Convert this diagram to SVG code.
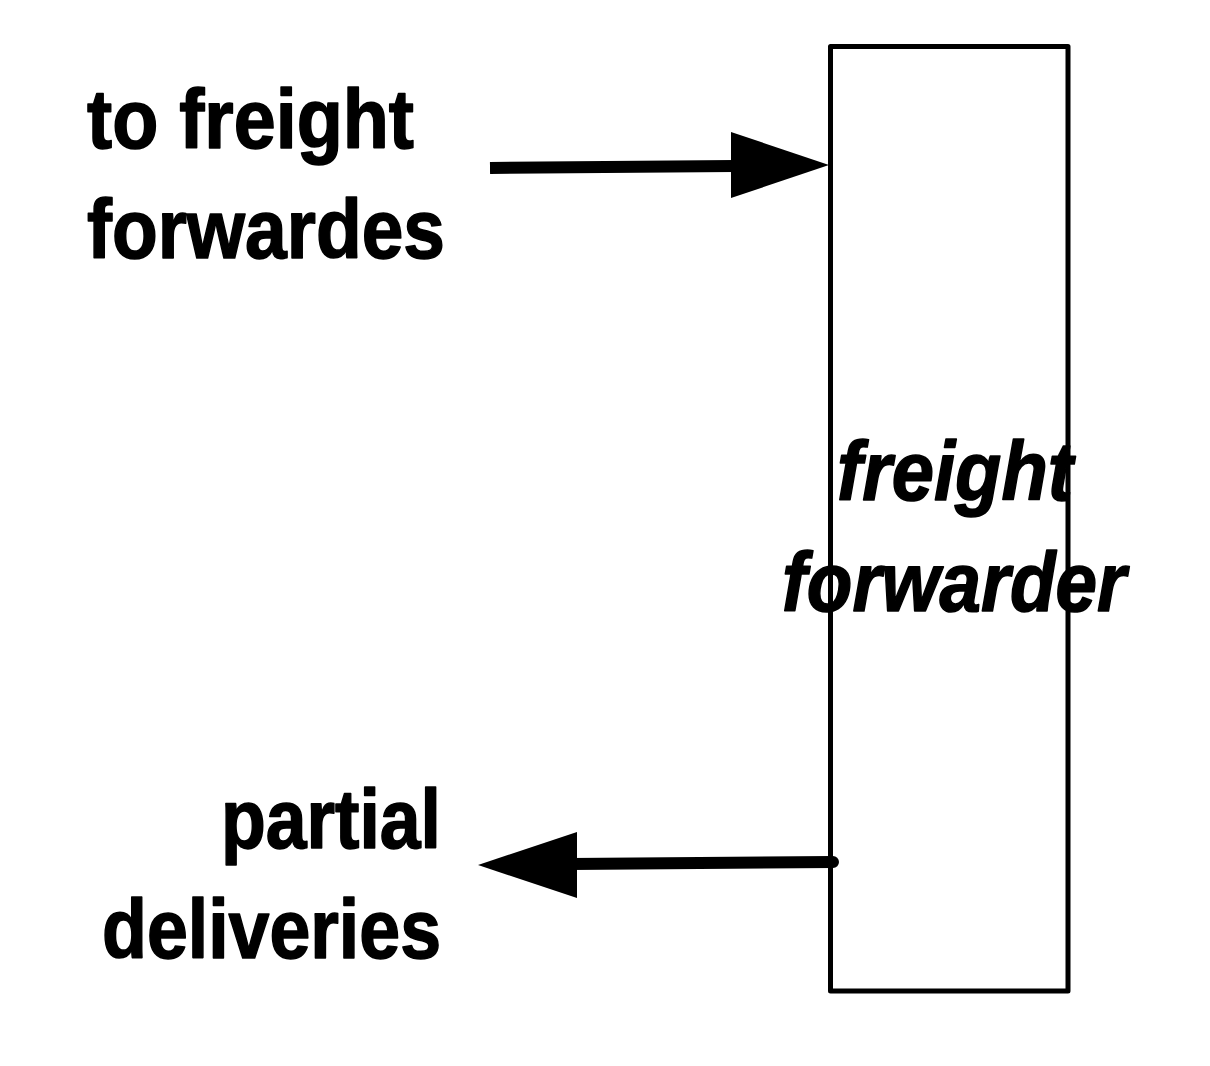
<svg xmlns="http://www.w3.org/2000/svg" width="1210" height="1066" viewBox="0 0 1210 1066">
<style>
.lbl{font-family:"Liberation Sans",Arial,sans-serif;font-weight:bold;font-size:84px;fill:#000;stroke:#000;stroke-width:1.6;stroke-linejoin:round}
.it{font-style:italic}
.ln{stroke:#000;stroke-width:12;fill:none}
.hd{fill:#000;stroke:none}
</style>
<rect width="1210" height="1066" fill="#fff"/>
<g id="connectors">
<g id="arrow-in">
<line class="ln" x1="490" y1="168" x2="735" y2="166" stroke-linecap="butt"/>
<polygon class="hd" points="731,132 829,165 731,198"/>
</g>
<g id="arrow-out">
<line class="ln" x1="833" y1="862" x2="570" y2="864" stroke-linecap="round"/>
<polygon class="hd" points="577,832 478,865 577,898"/>
</g>
</g>
<g id="node-freight-forwarder">
<rect x="830.5" y="46.5" width="237.5" height="944.5" fill="none" stroke="#000" stroke-width="5" stroke-linejoin="round"/>
<text class="lbl it" x="955" y="500" text-anchor="middle" textLength="236" lengthAdjust="spacingAndGlyphs">freight</text>
<text class="lbl it" x="954" y="611" text-anchor="middle" textLength="344" lengthAdjust="spacingAndGlyphs">forwarder</text>
</g>
<g id="label-to-freight-forwardes">
<text class="lbl" x="87" y="148" textLength="327" lengthAdjust="spacingAndGlyphs">to freight</text>
<text class="lbl" x="87" y="258" textLength="358" lengthAdjust="spacingAndGlyphs">forwardes</text>
</g>
<g id="label-partial-deliveries">
<text class="lbl" x="441" y="848" text-anchor="end" textLength="220" lengthAdjust="spacingAndGlyphs">partial</text>
<text class="lbl" x="441" y="958" text-anchor="end" textLength="339" lengthAdjust="spacingAndGlyphs">deliveries</text>
</g>
</svg>
